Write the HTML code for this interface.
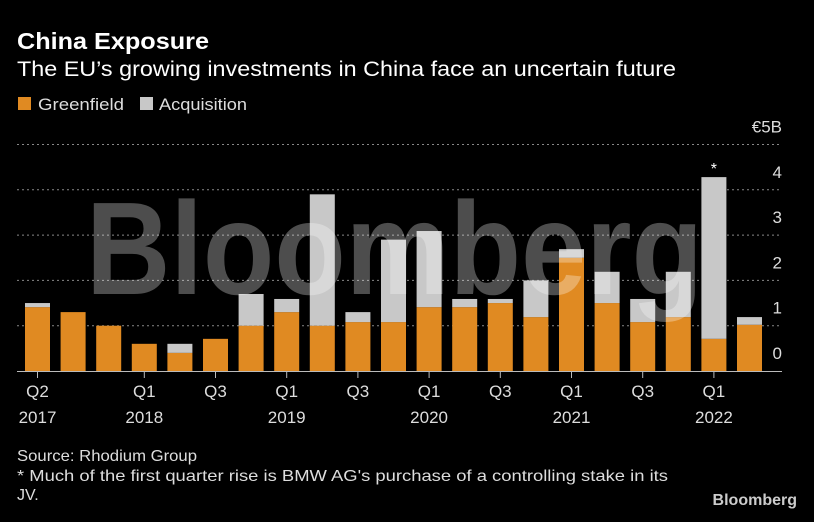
<!DOCTYPE html>
<html><head><meta charset="utf-8"><style>
body{margin:0;background:#000;width:814px;height:517px;overflow:hidden;font-family:"Liberation Sans",sans-serif;}
</style></head><body>
<svg width="814" height="517" xmlns="http://www.w3.org/2000/svg" font-family="Liberation Sans, sans-serif">
<text x="17" y="49" font-size="23" font-weight="bold" fill="#fff" textLength="192" lengthAdjust="spacingAndGlyphs">China Exposure</text>
<text x="17" y="76" font-size="21" fill="#fff" textLength="659" lengthAdjust="spacingAndGlyphs">The EU’s growing investments in China face an uncertain future</text>
<g>
<rect x="18" y="97" width="13" height="13" fill="#e08a22"/>
<text x="38" y="110" font-size="17" fill="#ddd" textLength="86" lengthAdjust="spacingAndGlyphs">Greenfield</text>
<rect x="140" y="97" width="13" height="13" fill="#c8c8c8"/>
<text x="159" y="110" font-size="17" fill="#ddd" textLength="88" lengthAdjust="spacingAndGlyphs">Acquisition</text>
</g>
<g id="grid"></g>
<g id="bars"></g>
<text x="86" y="294" font-size="132" font-weight="bold" fill="#fff" fill-opacity="0.3" textLength="617" lengthAdjust="spacingAndGlyphs">Bloomberg</text>
<g id="xaxis"></g>
<text x="17" y="461" font-size="16" fill="#ddd" textLength="180" lengthAdjust="spacingAndGlyphs">Source: Rhodium Group</text>
<text x="17" y="481" font-size="16" fill="#ddd" textLength="651" lengthAdjust="spacingAndGlyphs">* Much of the first quarter rise is BMW AG's purchase of a controlling stake in its</text>
<text x="17" y="500" font-size="16" fill="#ddd">JV.</text>
<text x="797" y="505" font-size="16" font-weight="bold" fill="#ccc" text-anchor="end">Bloomberg</text>
</svg>
<script>
const quarters=["Q2 17","Q3 17","Q4 17","Q1 18","Q2 18","Q3 18","Q4 18","Q1 19","Q2 19","Q3 19","Q4 19","Q1 20","Q2 20","Q3 20","Q4 20","Q1 21","Q2 21","Q3 21","Q4 21","Q1 22","Q2 22"];
const greenfield=[1.41,1.30,1.0,0.60,0.40,0.71,1.0,1.30,1.0,1.08,1.08,1.41,1.41,1.50,1.19,2.5,1.50,1.08,1.19,0.71,1.02];
const acquisition=[0.09,0,0,0,0.20,0,0.70,0.29,2.9,0.22,1.82,1.68,0.18,0.09,0.81,0.19,0.69,0.51,1.0,3.57,0.17];
const yTicks=[0,1,2,3,4,5];
const xLabels=[[0,"Q2","2017"],[3,"Q1","2018"],[5,"Q3",""],[7,"Q1","2019"],[9,"Q3",""],[11,"Q1","2020"],[13,"Q3",""],[15,"Q1","2021"],[17,"Q3",""],[19,"Q1","2022"]];
const NS="http://www.w3.org/2000/svg";
const y=v=>371-v*45.3;
const x=i=>37.5+i*35.6;
const bw=25;
function mk(t,a,p){const e=document.createElementNS(NS,t);for(const k in a)e.setAttribute(k,a[k]);p.appendChild(e);return e;}
const grid=document.getElementById('grid'),bars=document.getElementById('bars'),xa=document.getElementById('xaxis');
yTicks.forEach(v=>{
 if(v>0){const l=mk('line',{x1:17,x2:782,y1:y(v),y2:y(v),stroke:'#888','stroke-dasharray':'2,3','stroke-width':1},grid);
 
 }
 const t=mk('text',{x:782,y:y(v)-12,'font-size':17,fill:'#ddd','text-anchor':'end'},grid);
 t.textContent=v===5?'€5B':String(v);
 
 
});
quarters.forEach((q,i)=>{
 const g=greenfield[i],a=acquisition[i];
 const r1=mk('rect',{x:x(i)-bw/2,y:y(g),width:bw,height:y(0)-y(g),fill:'#e08a22'},bars);
 
 
 if(a>0){const r2=mk('rect',{x:x(i)-bw/2,y:y(g+a),width:bw,height:y(g)-y(g+a),fill:'#c8c8c8'},bars);
 
 }
 if(q==="Q1 22"){const s=mk('text',{x:x(i),y:y(g+a)-3,'font-size':16,fill:'#fff','text-anchor':'middle'},bars);s.textContent='*';
 
 }
});
const b=mk('line',{x1:17,x2:782,y1:371.5,y2:371.5,stroke:'#bbb','stroke-width':1},xa);


xLabels.forEach(([i,q,yr])=>{
 const tk=mk('line',{x1:x(i),x2:x(i),y1:372,y2:378,stroke:'#bbb'},xa);
 
 
 const t=mk('text',{x:x(i),y:397,'font-size':17,fill:'#ddd','text-anchor':'middle'},xa);t.textContent=q;
 
 
 if(yr){const t2=mk('text',{x:x(i),y:423,'font-size':17,fill:'#ddd','text-anchor':'middle'},xa);t2.textContent=yr;
 
 }
});
</script>
</body></html>
